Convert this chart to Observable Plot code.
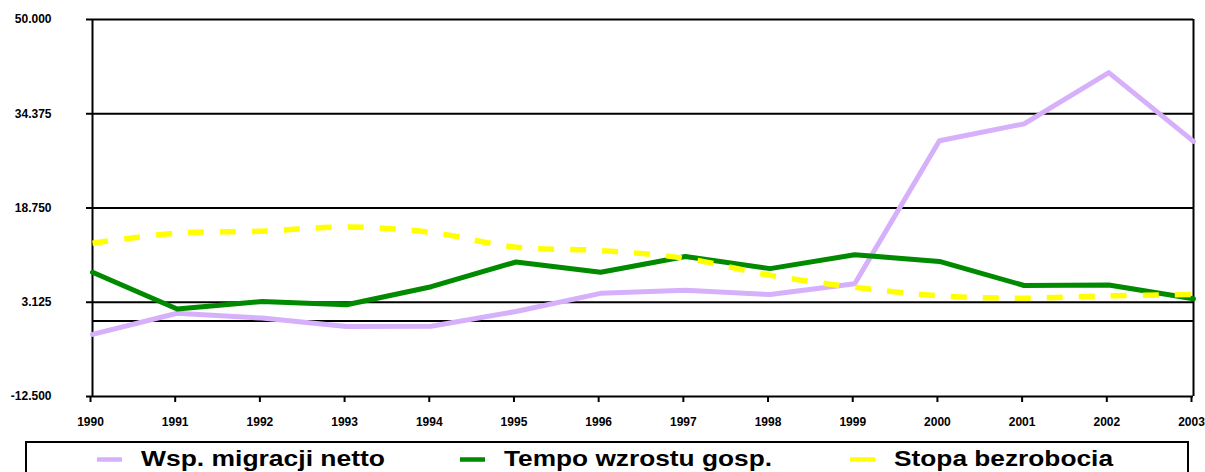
<!DOCTYPE html>
<html>
<head>
<meta charset="utf-8">
<script src="https://cdn.jsdelivr.net/npm/d3@7"></script>
<script src="https://cdn.jsdelivr.net/npm/@observablehq/plot@0.6"></script>
<style>
  html, body { margin: 0; padding: 0; background: #fff; }
  #wrap { position: relative; width: 1205px; height: 472px; overflow: hidden; background: #fff; }
  #wrap svg { display: block; }
  #legend { position: absolute; left: 0; top: 436px; }
</style>
</head>
<body>
<div id="wrap"></div>
<script>
const years = [1990, 1991, 1992, 1993, 1994, 1995, 1996, 1997, 1998, 1999, 2000, 2001, 2002, 2003];
const migracja = [-2.2, 1.3, 0.5, -0.9, -0.85, 1.6, 4.6, 5.1, 4.4, 6.2, 29.9, 32.7, 41.2, 29.8];
const tempo = [8.1, 2.0, 3.25, 2.7, 5.7, 9.8, 8.1, 10.7, 8.7, 11.0, 9.9, 5.9, 6.0, 3.7];
const stopa = [12.9, 14.6, 14.9, 15.6, 14.7, 12.25, 11.7, 10.4, 7.6, 5.6, 4.2, 3.8, 4.2, 4.4];
const yTicks = [-12.5, 3.125, 18.75, 34.375, 50];
const gridValues = [0, 3.125, 18.75, 34.375, 50];
const seriesNames = ["Wsp. migracji netto", "Tempo wzrostu gosp.", "Stopa bezrobocia"];
const seriesColors = ["#d6b0fa", "#008a00", "#ffff00"];

const rows = (vals) => years.map((y, i) => ({year: y, value: vals[i]}));
const font = "'Liberation Sans', Arial, Helvetica, sans-serif";

const chart = Plot.plot({
  width: 1205,
  height: 436,
  marginLeft: 92,
  marginRight: 12,
  marginTop: 19,
  marginBottom: 40,
  style: {fontFamily: font, fontWeight: "bold", color: "#000", background: "#fff"},
  x: {type: "linear", domain: [1990, 2003]},
  y: {domain: [-12.5, 50]},
  marks: [
    Plot.ruleY(gridValues, {stroke: "#000", strokeWidth: 2}),
    Plot.ruleY([-12.5], {stroke: "#000", strokeWidth: 2}),
    Plot.ruleX([1990, 2003], {stroke: "#000", strokeWidth: 2}),
    Plot.axisY({ticks: yTicks, tickSize: 6, tickPadding: 35, strokeWidth: 2, fontSize: 12,
      tickFormat: d => d.toFixed(3), label: null, stroke: "#000"}),
    Plot.axisX({ticks: years, tickSize: 6, tickPadding: 15, strokeWidth: 2, fontSize: 12,
      tickFormat: d => String(d), label: null, stroke: "#000", dx: -2}),
    Plot.line(rows(migracja), {x: "year", y: "value", stroke: seriesColors[0], strokeWidth: 5}),
    Plot.line(rows(tempo), {x: "year", y: "value", stroke: seriesColors[1], strokeWidth: 5}),
    Plot.line(rows(stopa), {x: "year", y: "value", stroke: seriesColors[2], strokeWidth: 5.5,
      strokeDasharray: "16,16", curve: "catmull-rom", strokeLinecap: "butt"})
  ]
});
document.getElementById("wrap").appendChild(chart);

// legend below the plot
const lg = d3.select("#wrap").append("svg")
  .attr("id", "legend").attr("width", 1205).attr("height", 36);
lg.append("rect").attr("x", 26).attr("y", 6).attr("width", 1162).attr("height", 80)
  .attr("fill", "none").attr("stroke", "#000").attr("stroke-width", 2);
const swX = [97, 460, 850];
const txX = [141, 504, 894];
const txW = [244, 268, 219];
seriesNames.forEach((n, i) => {
  lg.append("line").attr("x1", swX[i]).attr("x2", swX[i] + 25).attr("y1", 23.5).attr("y2", 23.5)
    .attr("stroke", seriesColors[i]).attr("stroke-width", 4.5);
  lg.append("text").attr("x", txX[i]).attr("y", 30).text(n)
    .attr("textLength", txW[i]).attr("lengthAdjust", "spacingAndGlyphs")
    .attr("font-family", font).attr("font-weight", "bold").attr("font-size", 22.5).attr("fill", "#000");
});
</script>
</body>
</html>
